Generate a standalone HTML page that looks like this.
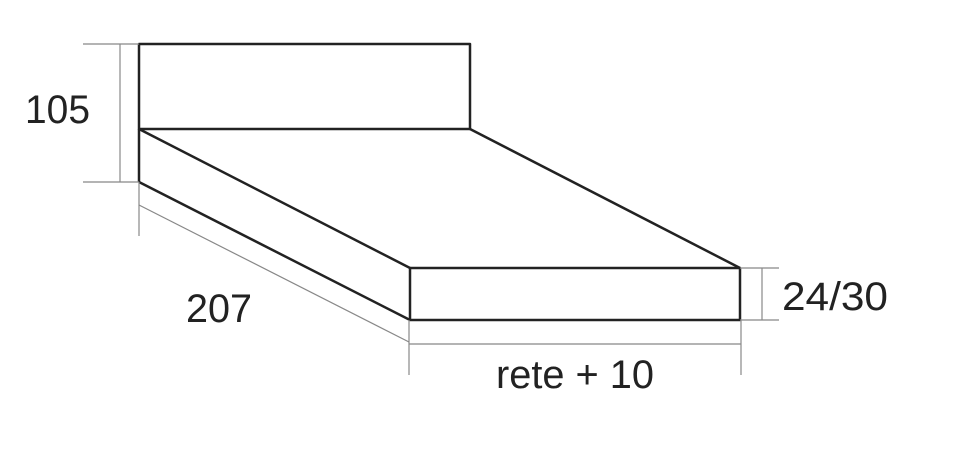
<!DOCTYPE html>
<html><head><meta charset="utf-8"><style>
html,body{margin:0;padding:0;background:#fff;}
svg{display:block;}
text{font-family:"Liberation Sans",sans-serif;fill:#222;}
</style></head><body>
<svg width="961" height="472" viewBox="0 0 961 472" xmlns="http://www.w3.org/2000/svg">
<g fill="none" stroke="#222" stroke-width="2.5" stroke-linejoin="round">
<rect x="139" y="44" width="331" height="85"/>
<line x1="139" y1="129" x2="410" y2="268"/>
<line x1="470" y1="129" x2="740" y2="268"/>
<rect x="410" y="268" width="330" height="52"/>
<line x1="139" y1="129" x2="139" y2="182"/>
<line x1="139" y1="182" x2="410" y2="320"/>
</g>
<g fill="none" stroke="#888" stroke-width="1.2">
<line x1="83" y1="44" x2="139" y2="44"/>
<line x1="83" y1="182" x2="139" y2="182"/>
<line x1="120" y1="44" x2="120" y2="182"/>
<line x1="139" y1="182" x2="139" y2="236"/>
<line x1="139" y1="205" x2="409" y2="342"/>
<line x1="409" y1="320" x2="409" y2="375"/>
<line x1="741" y1="320" x2="741" y2="375"/>
<line x1="409" y1="344" x2="741" y2="344"/>
<line x1="740" y1="268" x2="779" y2="268"/>
<line x1="740" y1="320" x2="779" y2="320"/>
<line x1="762" y1="268" x2="762" y2="320"/>
</g>
<text x="25" y="123" font-size="40" textLength="65" lengthAdjust="spacingAndGlyphs">105</text>
<text x="186" y="322" font-size="40" textLength="66" lengthAdjust="spacingAndGlyphs">207</text>
<text x="782" y="310" font-size="40" textLength="106" lengthAdjust="spacingAndGlyphs">24/30</text>
<text x="496" y="388" font-size="40" textLength="158" lengthAdjust="spacingAndGlyphs">rete + 10</text>
</svg>
</body></html>
